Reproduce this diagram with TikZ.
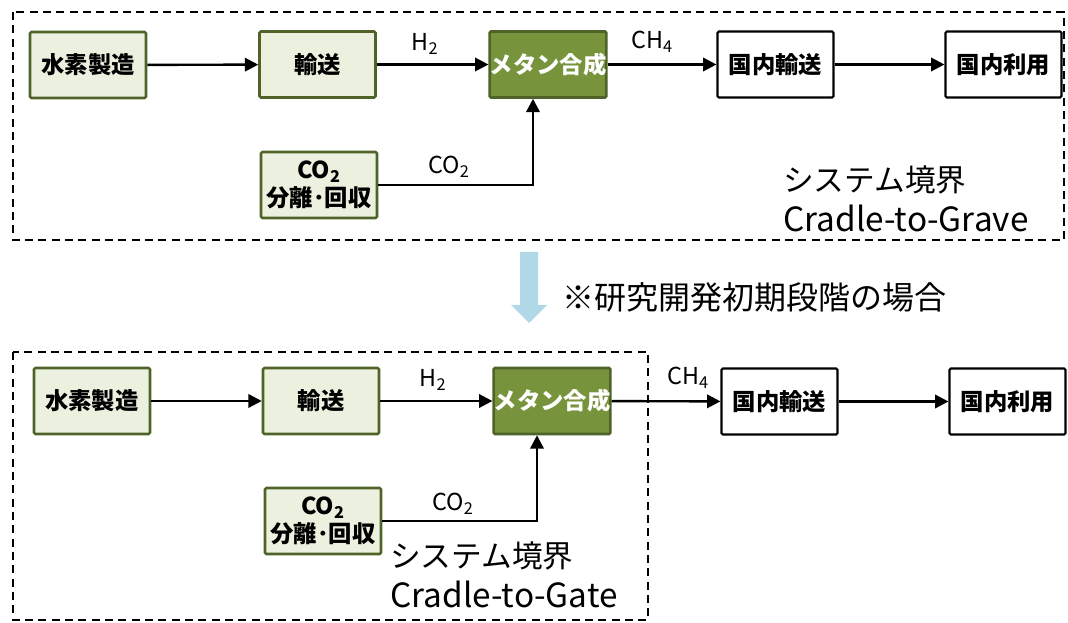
\documentclass[tikz,border=0pt]{standalone}
\usepackage{fontspec}
\setmainfont{Noto Sans CJK JP}
\usetikzlibrary{arrows.meta}
\definecolor{lg}{RGB}{235,241,222}
\definecolor{gb}{RGB}{79,98,40}
\definecolor{dg}{RGB}{119,147,60}
\definecolor{lb}{RGB}{176,216,230}
\begin{document}
\begin{tikzpicture}[x=0.75pt,y=-0.75pt,
  base/.style={line width=1.9pt,rounded corners=1pt,minimum width=87pt,minimum height=49.5pt,inner sep=0pt,align=center,font=\fontsize{17.5}{19}\selectfont\bfseries},
  lbox/.style={base,draw=gb,fill=lg},
  mbox/.style={base,draw=gb,fill=dg,text=white},
  wbox/.style={base,draw=black,fill=white,line width=1.6pt},
  arr/.style={line width=1.8pt,-{Triangle[length=10pt,width=10pt]}},
  lbl/.style={font=\fontsize{17.5}{19}\selectfont,inner sep=0pt},
  frame/.style={draw=black,line width=1.2pt,dash pattern=on 6pt off 4pt},
  note/.style={font=\fontsize{23}{26}\selectfont,anchor=west,inner sep=0pt},
  notel/.style={font=\fontsize{25}{28}\selectfont,anchor=west,inner sep=0pt}]
\useasboundingbox (0,0) rectangle (1068,623);
% ---- top ----
\draw[frame] (13,12) rectangle (1064,240);
\node[lbox] (A1) at (88,65) {水素製造};
\node[lbox] (B1) at (317.5,64.5) {輸送};
\node[mbox] (M1) at (548,64.5) {メタン合成};
\node[wbox] (D1) at (775.5,64.5) {国内輸送};
\node[wbox] (U1) at (1003.5,64.5) {国内利用};
\node[lbox,font=\fontsize{17.5}{21}\selectfont\bfseries] (C1) at (319,185) {CO\textsubscript{2}\\分離･回収};
\draw[arr] (A1) -- (B1);
\draw[arr] (B1) -- (M1);
\draw[arr] (M1) -- (D1);
\draw[arr] (D1) -- (U1);
\coordinate (k1) at (533,185);
\draw[arr] (C1.east) -- (k1) -- (k1 |- M1.south);
\node[lbl] (h1) at (425,44) {H\textsubscript{2}};
\node[lbl] (c1) at (652,42) {CH\textsubscript{4}};
\node[lbl] (o1) at (449,167) {CO\textsubscript{2}};
\node[note] (s1) at (783,180) {システム境界};
\node[notel] (g1) at (783,218) {Cradle-to-Grave};
% ---- middle ----
\fill[lb] (520,252) -- (538,252) -- (538,305) -- (547,305) -- (529,323) -- (511,305) -- (520,305) -- cycle;
\node[font=\fontsize{24}{28}\selectfont,anchor=west,inner sep=0pt] (n) at (562,297) {※研究開発初期段階の場合};
% ---- bottom ----
\draw[frame] (13,352) rectangle (648,620);
\node[lbox] (A2) at (92,401) {水素製造};
\node[lbox] (B2) at (321,401) {輸送};
\node[mbox] (M2) at (552,401) {メタン合成};
\node[wbox] (D2) at (779.5,401.5) {国内輸送};
\node[wbox] (U2) at (1007.5,401.5) {国内利用};
\node[lbox,font=\fontsize{17.5}{21}\selectfont\bfseries] (C2) at (323,521) {CO\textsubscript{2}\\分離･回収};
\draw[arr] (A2) -- (B2);
\draw[arr] (B2) -- (M2);
\draw[arr] (M2) -- (D2);
\draw[arr] (D2) -- (U2);
\coordinate (k2) at (537,521);
\draw[arr] (C2.east) -- (k2) -- (k2 |- M2.south);
\node[lbl] (h2) at (433,380) {H\textsubscript{2}};
\node[lbl] (c2) at (688,378) {CH\textsubscript{4}};
\node[lbl] (o2) at (453,504) {CO\textsubscript{2}};
\node[note] (s2) at (390,556) {システム境界};
\node[notel] (g2) at (390,594) {Cradle-to-Gate};
\end{tikzpicture}
\end{document}
